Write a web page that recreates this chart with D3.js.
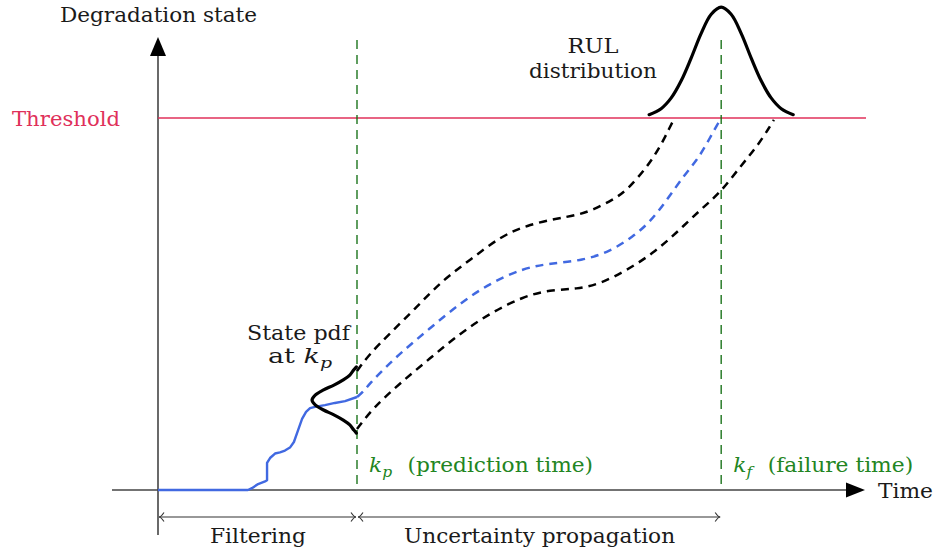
<!DOCTYPE html>
<html>
<head>
<meta charset="utf-8">
<script src="https://cdn.jsdelivr.net/npm/d3@7"></script>
<style>
  html, body { margin: 0; padding: 0; background: #fff; }
  svg { display: block; }
</style>
</head>
<body>
<svg id="chart" width="936" height="554"></svg>
<script>
// ---------------- data (time in steps, degradation normalised so threshold = 1) ----------------
const kp = 10;          // prediction time
const kf = 28.3;        // failure time
const threshold = 1;

// filtered state (solid blue, up to kp)
const filterT = [0, 4.52, 4.72, 5.03, 5.38, 5.48, 5.48, 5.63, 5.88, 6.13, 6.38, 6.63, 6.83, 7.04, 7.24, 7.44, 7.64, 7.94, 8.39, 8.89, 9.40, 10];
const filterD = [0, 0, 0.005, 0.016, 0.023, 0.026, 0.073, 0.086, 0.098, 0.101, 0.106, 0.114, 0.129, 0.161, 0.191, 0.210, 0.220, 0.224, 0.228, 0.234, 0.239, 0.250];

// predicted mean (blue dashed)
const meanT = [10, 10.30, 10.65, 11.41, 12.16, 13.67, 15.18, 16.68, 18.34, 19.70, 21.36, 22.71, 23.87, 24.72, 25.58, 26.38, 27.09, 27.59, 28.14, 28.29];
const meanD = [0.250, 0.263, 0.287, 0.328, 0.367, 0.435, 0.502, 0.556, 0.596, 0.609, 0.617, 0.641, 0.681, 0.720, 0.780, 0.842, 0.887, 0.932, 0.986, 0.997];

// upper bound (black dashed)
const upperT = [10, 10.65, 11.66, 13.02, 14.32, 15.68, 17.19, 18.54, 20.05, 21.06, 21.86, 22.86, 23.57, 24.57, 25.23, 25.73, 25.88];
const upperD = [0.320, 0.367, 0.421, 0.493, 0.565, 0.618, 0.681, 0.712, 0.730, 0.739, 0.753, 0.780, 0.806, 0.868, 0.922, 0.976, 0.992];

// lower bound (black dashed)
const lowerT = [10, 10.80, 12.16, 13.67, 15.18, 16.68, 18.34, 19.70, 21.06, 22.21, 23.57, 24.87, 26.03, 27.24, 28.24, 29.25, 30.10, 30.75, 30.95];
const lowerD = [0.164, 0.220, 0.287, 0.354, 0.421, 0.475, 0.520, 0.538, 0.540, 0.554, 0.591, 0.636, 0.690, 0.753, 0.798, 0.869, 0.923, 0.977, 0.995];

// state pdf at kp (drawn to the left of kp)
const pdfT = [9.97, 9.84, 9.64, 9.31, 8.84, 8.32, 7.90, 7.74, 7.90, 8.32, 8.84, 9.31, 9.64, 9.84, 9.97];
const pdfD = [0.331, 0.323, 0.309, 0.296, 0.282, 0.269, 0.255, 0.242, 0.229, 0.215, 0.202, 0.188, 0.175, 0.161, 0.153];

// RUL distribution (drawn above the threshold)
const rulT = [24.68, 25.28, 25.79, 26.29, 26.79, 27.29, 27.80, 28.30, 28.80, 29.31, 29.81, 30.31, 30.81, 31.32, 31.92];
const rulD = [1.009, 1.025, 1.054, 1.100, 1.161, 1.227, 1.279, 1.298, 1.279, 1.227, 1.161, 1.100, 1.054, 1.025, 1.009];

// texts
const yAxisTitle = "Degradation state";
const xAxisTitle = "Time";
const thresholdLabel = "Threshold";
const rulLabel = ["RUL", "distribution"];
const pdfLabel = ["State pdf", "at "];
const kpLabel = "(prediction time)";
const kfLabel = "(failure time)";
const phaseLabels = ["Filtering", "Uncertainty propagation"];

// ---------------- drawing ----------------
const FONT = "'DejaVu Serif', 'Liberation Serif', serif";
const svg = d3.select("#chart").attr("font-family", FONT);
const x = d3.scaleLinear().domain([0, 10]).range([158, 357]);
const y = d3.scaleLinear().domain([0, 1]).range([490, 118]);

const axisCol = "#444";
const blue = "#4169e1";
const red = "#e0305a";
const greenLine = "#0b6a0b";
const greenText = "#228522";
const dash = "8,6";

const smooth = d3.line().x(d => x(d[0])).y(d => y(d[1])).curve(d3.curveCatmullRom.alpha(0.5));
const soft = d3.line().x(d => x(d[0])).y(d => y(d[1])).curve(d3.curveBasis);
const straight = d3.line().x(d => x(d[0])).y(d => y(d[1]));
const zip = (a, b) => a.map((v, i) => [v, b[i]]);

// axes
const x0 = x(0), y0 = y(0);
svg.append("line").attr("x1", x0 - 46).attr("x2", 848).attr("y1", y0).attr("y2", y0)
  .attr("stroke", axisCol).attr("stroke-width", 1.6);
svg.append("path").attr("d", `M${865},${y0} L${846},${y0 - 7.5} L${846},${y0 + 7.5} Z`).attr("fill", "#000");
svg.append("line").attr("x1", x0).attr("x2", x0).attr("y1", 535).attr("y2", 56)
  .attr("stroke", axisCol).attr("stroke-width", 1.6);
svg.append("path").attr("d", `M${x0},37 L${x0 - 8},56 L${x0 + 8},56 Z`).attr("fill", "#000");

// threshold
svg.append("line").attr("x1", x0).attr("x2", 866).attr("y1", y(threshold)).attr("y2", y(threshold))
  .attr("stroke", red).attr("stroke-width", 1.5);

// kp, kf vertical lines
[kp, kf].forEach(k => {
  svg.append("line").attr("x1", x(k)).attr("x2", x(k)).attr("y1", 40).attr("y2", y0)
    .attr("stroke", greenLine).attr("stroke-width", 1.3).attr("stroke-dasharray", "9,6");
});

// prediction bounds
svg.append("path").attr("d", soft(zip(upperT, upperD))).attr("fill", "none")
  .attr("stroke", "#000").attr("stroke-width", 2.5).attr("stroke-dasharray", dash);
svg.append("path").attr("d", soft(zip(lowerT, lowerD))).attr("fill", "none")
  .attr("stroke", "#000").attr("stroke-width", 2.5).attr("stroke-dasharray", dash);
svg.append("path").attr("d", soft(zip(meanT, meanD))).attr("fill", "none")
  .attr("stroke", blue).attr("stroke-width", 2.5).attr("stroke-dasharray", dash);

// filtered state
svg.append("path").attr("d", straight(zip(filterT, filterD))).attr("fill", "none")
  .attr("stroke", blue).attr("stroke-width", 2.4).attr("stroke-linejoin", "round");

// state pdf
svg.append("path").attr("d", smooth(zip(pdfT, pdfD))).attr("fill", "none")
  .attr("stroke", "#000").attr("stroke-width", 3.2).attr("stroke-linecap", "round");

// RUL distribution
svg.append("path").attr("d", smooth(zip(rulT, rulD))).attr("fill", "none")
  .attr("stroke", "#000").attr("stroke-width", 3.2).attr("stroke-linecap", "round");

// phase brackets
const by = 517;
function chevron(px, dir) { // dir=-1 points left, +1 points right
  svg.append("path").attr("d", `M${px - dir * 5},${by - 4.5} Q${px - dir * 2},${by} ${px},${by} Q${px - dir * 2},${by} ${px - dir * 5},${by + 4.5}`)
    .attr("fill", "none").attr("stroke", "#333").attr("stroke-width", 1.1);
}
[[0, kp], [kp, kf]].forEach(([a, b]) => {
  svg.append("line").attr("x1", x(a) + 1).attr("x2", x(b) - 1).attr("y1", by).attr("y2", by)
    .attr("stroke", "#333").attr("stroke-width", 1.2);
  chevron(x(a) + 1, -1);
  chevron(x(b) - 1, 1);
});

// ---------------- texts ----------------
const fs = 21;
function label(txt, px, py, anchor, len, color, size) {
  const t = svg.append("text").attr("x", px).attr("y", py).attr("text-anchor", anchor)
    .attr("font-family", FONT)
    .attr("font-size", size || fs).attr("fill", color || "#1a1a1a").text(txt);
  if (len) t.attr("textLength", len).attr("lengthAdjust", "spacingAndGlyphs");
  return t;
}
label(yAxisTitle, x0 + 0.5, 22, "middle", 197);
label(xAxisTitle, 878, 498, "start", 55);
label(thresholdLabel, 120, 126, "end", 108, red);
label(rulLabel[0], 593, 53, "middle", 51, null, 20);
label(rulLabel[1], 593, 78, "middle", 128, null, 20);
label(pdfLabel[0], 298.5, 340, "middle", 103, null, 20);

// "at k_p"
const t2 = svg.append("text").attr("x", 300).attr("y", 363).attr("text-anchor", "middle")
  .attr("font-family", FONT)
  .attr("font-size", 20).attr("fill", "#1a1a1a")
  .attr("textLength", 64).attr("lengthAdjust", "spacingAndGlyphs");
t2.append("tspan").text(pdfLabel[1]);
t2.append("tspan").attr("font-style", "italic").text("k");
t2.append("tspan").attr("font-style", "italic").attr("font-size", 14).attr("dy", 5).text("p");

function kLabel(px, sub, rest, len) {
  const t = svg.append("text").attr("x", px).attr("y", 472).attr("font-size", fs).attr("fill", greenText)
    .attr("font-family", FONT)
    .attr("textLength", len).attr("lengthAdjust", "spacingAndGlyphs");
  t.append("tspan").attr("font-style", "italic").text("k");
  t.append("tspan").attr("font-style", "italic").attr("font-size", 15).attr("dy", 5).text(sub);
  t.append("tspan").attr("dy", -5).attr("dx", 15).text(rest);
}
kLabel(x(kp) + 12, "p", kpLabel, 224);
kLabel(x(kf) + 12, "f", kfLabel, 180);

label(phaseLabels[0], (x(0) + x(kp)) / 2 + 0.5, 543, "middle", 96);
label(phaseLabels[1], (x(kp) + x(kf)) / 2 + 0.5, 543, "middle", 271);
</script>
</body>
</html>
